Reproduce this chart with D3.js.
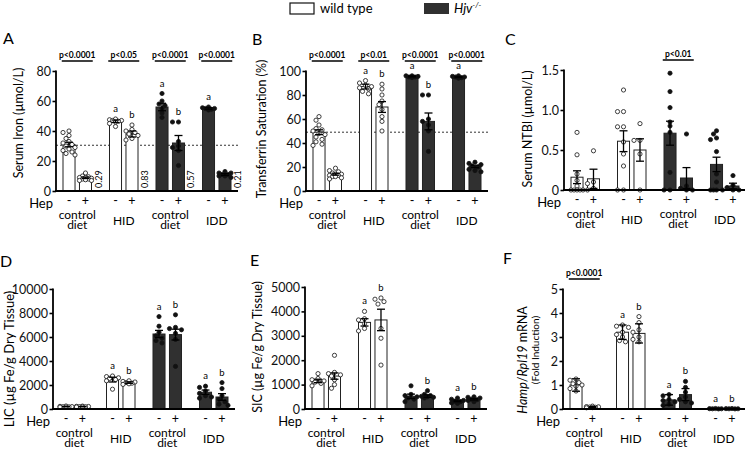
<!DOCTYPE html>
<html>
<head>
<meta charset="utf-8">
<script src="https://cdn.jsdelivr.net/npm/d3@7"></script>
<style>
body { margin: 0; background: #fff; }
svg { font-family: Lato, "Open Sans", sans-serif; }
</style>
</head>
<body>
<div id="chart"></div>
<script>
/* eslint-env browser */

// categories
const groupLabels = [["control", "diet"], ["HID"], ["control", "diet"], ["IDD"]];
const hepSigns = ["-", "+"];
const genotype = ["wt", "wt", "wt", "wt", "hjv", "hjv", "hjv", "hjv"];

// A serum iron
const ironMean = [31, 8.8, 46.5, 38, 56, 32, 55, 11];
const ironSem = [1.5, 0.5, 0.8, 2, 2.5, 5, 0.5, 0.6];
const ironPoints = [
    [40, 39, 37, 35, 33, 32, 31, 30, 29, 28, 27, 26, 25, 24],
    [12, 10, 9.5, 9, 9, 8.5, 8, 8, 7.5, 7, 7],
    [48, 47.5, 47, 47, 46.5, 46, 45, 43],
    [44, 41, 40, 39, 38, 37, 35, 34],
    [65, 60, 58, 57, 55, 52, 49],
    [46, 46, 33, 30, 29, 27, 17],
    [56, 55.5, 55, 55, 54.5, 54],
    [13, 12, 12, 11, 11, 10, 10, 9]
];
const ironLetters = ["", "", "a", "b", "a", "b", "a", ""];
const ironP = ["p<0.0001", "p<0.05", "p<0.0001", "p<0.0001"];
const ironRatio = ["0.29", "0.83", "0.57", "0.21"];
const ironRef = 30.5;
const ironTicks = [0, 20, 40, 60, 80];

// B transferrin saturation
const tsatMean = [49, 14, 87, 70, 95.5, 58, 95, 20.5];
const tsatSem = [2, 0.8, 2, 4.5, 0.4, 7, 0.4, 1];
const tsatPoints = [
    [62, 59, 55, 52, 51, 50, 48, 47, 45, 43, 41, 39, 38],
    [19, 17, 16, 15, 14, 14, 13, 13, 12, 12, 11, 10],
    [92, 90, 88, 87, 86, 85, 83, 81],
    [89, 85, 80, 75, 72, 68, 62, 58, 50],
    [96, 96, 95.5, 95, 95, 94.5],
    [80, 80, 60, 58, 55, 50, 33],
    [96, 95.5, 95, 95, 94.5, 94],
    [24, 23, 22, 21, 20, 18, 17, 16]
];
const tsatLetters = ["", "", "a", "b", "a", "b", "a", ""];
const tsatP = ["p<0.0001", "p<0.01", "p<0.0001", "p<0.0001"];
const tsatRef = 49;
const tsatTicks = [0, 20, 40, 60, 80, 100];

// C serum NTBI
const ntbiMean = [0.16, 0.14, 0.61, 0.5, 0.71, 0.15, 0.32, 0.05];
const ntbiSem = [0.08, 0.12, 0.13, 0.14, 0.15, 0.13, 0.09, 0.035];
const ntbiPoints = [
    [0.72, 0.44, 0.2, 0.12, 0.05, 0, 0, 0, 0, 0],
    [0.49, 0.1, 0.08, 0.02, 0],
    [1.25, 0.98, 0.98, 0.79, 0.79, 0.6, 0.45, 0.3, 0, 0],
    [0.83, 0.62, 0.62, 0.45, 0],
    [1.46, 1.23, 1.03, 0.85, 0.8, 0.72, 0.22, 0, 0],
    [0.7, 0.05, 0.02, 0, 0],
    [0.74, 0.7, 0.65, 0.63, 0.48, 0.2, 0.1, 0, 0, 0, 0],
    [0.18, 0.06, 0.03, 0, 0]
];
const ntbiP = ["", "", "p<0.01", ""];
const ntbiTicks = [0, 0.5, 1.0, 1.5];

// D liver iron
const licMean = [200, 200, 2450, 2200, 6250, 6200, 1400, 1000];
const licSem = [20, 20, 200, 60, 300, 450, 180, 280];
const licPoints = [
    [250, 220, 200, 190, 180, 170, 160],
    [240, 220, 210, 200, 190, 180, 170],
    [2750, 2700, 2600, 2550, 2450, 2350, 1650],
    [2350, 2300, 2250, 2200, 2150, 2100, 2050],
    [7700, 6900, 6400, 6100, 5900, 5700, 5500],
    [7850, 6800, 6700, 6600, 6300, 5800, 3550],
    [1900, 1800, 1500, 1300, 1100, 1000, 900],
    [2200, 1700, 1100, 800, 600, 400, 300]
];
const licLetters = ["", "", "a", "b", "a", "b", "a", "b"];
const licTicks = [0, 2000, 4000, 6000, 8000, 10000];

// E spleen iron
const sicMean = [1150, 1350, 3550, 3650, 520, 530, 330, 400];
const sicSem = [70, 130, 150, 440, 90, 50, 30, 30];
const sicPoints = [
    [1450, 1250, 1200, 1150, 1100, 1050, 950],
    [2200, 1500, 1450, 1400, 1350, 1200, 1000, 850],
    [4000, 3700, 3650, 3500, 3300, 3200],
    [4550, 4500, 4400, 4300, 3300, 2900, 1800],
    [950, 600, 550, 500, 450, 400, 300],
    [750, 600, 550, 520, 500, 480, 450],
    [450, 400, 350, 320, 300, 250, 230],
    [500, 480, 450, 400, 380, 350, 300]
];
const sicLetters = ["", "", "a", "b", "", "b", "a", "b"];
const sicTicks = [0, 1000, 2000, 3000, 4000, 5000];

// F hepcidin mRNA
const hampMean = [1.0, 0.08, 3.2, 3.15, 0.38, 0.6, 0.01, 0.01];
const hampErr = [0.26, 0.02, 0.3, 0.4, 0.22, 0.25, 0.005, 0.005];
const hampPoints = [
    [1.25, 1.2, 1.1, 1.05, 1.0, 0.95, 0.85, 0.75],
    [0.12, 0.1, 0.09, 0.08, 0.07, 0.06, 0.05],
    [3.5, 3.45, 3.4, 3.2, 3.1, 3.0, 2.85, 2.8],
    [3.85, 3.6, 3.3, 3.2, 3.0, 2.9, 2.8],
    [0.6, 0.55, 0.4, 0.35, 0.3, 0.2, 0.15],
    [1.15, 0.9, 0.7, 0.5, 0.4, 0.3, 0.25],
    [0.02, 0.015, 0.01, 0.01, 0.005],
    [0.02, 0.015, 0.01, 0.01, 0.005]
];
const hampLetters = ["", "", "a", "b", "a", "b", "a", "b"];
const hampP = ["p<0.0001", "", "", ""];
const hampTicks = [0, 1, 2, 3, 4, 5];

var Figure = (function () {
    "use strict";
    const width = 745, height = 450,
        axisLen = 182,
        dark = "#303030",
        r = 2.1;
    var svg;

    const panels = [
        {label: "A", lx: 3, ly: 44, x0: 56, top: 71, bottom: 191, max: 80, ticks: ironTicks,
            mean: ironMean, err: ironSem, pts: ironPoints, letters: ironLetters, pvals: ironP,
            ref: ironRef, ratio: ironRatio, title: "Serum Iron (µmol/L)", tx: 19, ty: 123, tsize: 12.5},
        {label: "B", lx: 252, ly: 45, x0: 306, top: 71, bottom: 191, max: 100, ticks: tsatTicks,
            mean: tsatMean, err: tsatSem, pts: tsatPoints, letters: tsatLetters, pvals: tsatP,
            ref: tsatRef, title: "Transferrin Saturation (%)", tx: 262, ty: 129, tsize: 12.5},
        {label: "C", lx: 505, ly: 45, x0: 564, top: 70, bottom: 190, max: 1.5, ticks: ntbiTicks,
            mean: ntbiMean, err: ntbiSem, pts: ntbiPoints, pvals: ntbiP,
            fmt: function (d) { return d === 0 ? "0" : d3.format(".1f")(d); },
            title: "Serum NTBI (µmol/L)", tx: 528, ty: 129, tsize: 12.5},
        {label: "D", lx: 0, ly: 267, x0: 53, top: 289, bottom: 409, max: 10000, ticks: licTicks,
            mean: licMean, err: licSem, pts: licPoints, letters: licLetters,
            title: "LIC (µg Fe/g Dry Tissue)", tx: 9, ty: 359, tsize: 13},
        {label: "E", lx: 250, ly: 266, x0: 305, top: 287, bottom: 409, max: 5000, ticks: sicTicks,
            mean: sicMean, err: sicSem, pts: sicPoints, letters: sicLetters,
            title: "SIC (µg Fe/g Dry Tissue)", tx: 258, ty: 347, tsize: 12.5},
        {label: "F", lx: 503, ly: 264, x0: 563, top: 289, bottom: 409, max: 5, ticks: hampTicks,
            mean: hampMean, err: hampErr, pts: hampPoints, letters: hampLetters, pvals: hampP,
            hamp: true, tx: 523, ty: 360}
    ];

    function init() {
        svg = d3.select("#chart").append("svg")
            .attr("width", width)
            .attr("height", height);
        drawLegend();
        panels.forEach(drawPanel);
    }

    function drawLegend() {
        var lg = svg.append("g");
        lg.append("rect").attr("x", 290).attr("y", 3).attr("width", 24).attr("height", 11)
            .attr("fill", "#fff").attr("stroke", "#111").attr("stroke-width", 1.2);
        lg.append("text").attr("x", 320).attr("y", 13).attr("font-size", 13).text("wild type");
        lg.append("rect").attr("x", 424).attr("y", 3).attr("width", 25).attr("height", 11)
            .attr("fill", dark);
        var t = lg.append("text").attr("x", 454).attr("y", 13).attr("font-size", 13)
            .attr("font-style", "italic");
        t.append("tspan").text("Hjv");
        t.append("tspan").attr("font-size", 8).attr("dy", -5).text("-/-");
    }

    // keeps dots of one bar from piling on each other
    function swarm(vals, y) {
        var placed = [];
        var cands = [0, -1, 1, -2, 2];
        vals.forEach(function (v) {
            var py = y(v), best = 0, bestDist = -1;
            for (var k = 0; k < cands.length; k++) {
                var cx = cands[k] * 3;
                var dmin = d3.min(placed, function (p) { return Math.hypot(p.x - cx, p.y - py); });
                if (dmin === undefined) dmin = 99;
                if (dmin >= r * 1.9) { best = cx; bestDist = 99; break; }
                if (dmin > bestDist) { bestDist = dmin; best = cx; }
            }
            placed.push({x: best, y: py});
        });
        return placed;
    }

    function drawPanel(p) {
        var g = svg.append("g");
        var y = d3.scaleLinear().domain([0, p.max]).range([p.bottom, p.top]);
        var xGroup = d3.scalePoint().domain([0, 1, 2, 3]).range([p.x0, p.x0 + axisLen]).padding(0.457);
        var xSub = d3.scaleBand().domain([0, 1]).range([-14.25, 14.25]).paddingInner(0.27);
        var bw = xSub.bandwidth();
        var bars = p.mean.map(function (m, i) {
            var gi = Math.floor(i / 2), s = i % 2;
            var x = xGroup(gi) + xSub(s);
            return {i: i, g: gi, s: s, x: x, cx: x + bw / 2, mean: m, err: p.err[i], pts: p.pts[i], wt: genotype[i] === "wt"};
        });

        // panel label
        svg.append("text").attr("x", p.lx).attr("y", p.ly).attr("font-size", 16).text(p.label);

        // reference line
        if (p.ref !== undefined) {
            g.append("line")
                .attr("x1", p.x0).attr("x2", p.x0 + axisLen)
                .attr("y1", y(p.ref)).attr("y2", y(p.ref))
                .attr("stroke", "#333").attr("stroke-width", 1)
                .attr("stroke-dasharray", "2,2");
        }

        // bars
        g.selectAll("rect.bar").data(bars).enter().append("rect")
            .attr("class", "bar")
            .attr("x", function (d) { return d.x; })
            .attr("width", bw)
            .attr("y", function (d) { return y(d.mean); })
            .attr("height", function (d) { return p.bottom - y(d.mean); })
            .attr("fill", function (d) { return d.wt ? "#fff" : dark; })
            .attr("stroke", "#222")
            .attr("stroke-width", 1);

        // dots
        bars.forEach(function (d) {
            var pos = swarm(d.pts, y);
            g.append("g").selectAll("circle").data(pos).enter().append("circle")
                .attr("cx", function (q) { return d.cx + q.x; })
                .attr("cy", function (q) { return q.y; })
                .attr("r", r)
                .attr("fill", d.wt ? "#fff" : "#111")
                .attr("stroke", "#111")
                .attr("stroke-width", 0.8);
        });

        // error bars
        var eb = g.selectAll("g.err").data(bars).enter().append("g").attr("class", "err")
            .attr("stroke", "#000").attr("stroke-width", 1.3);
        eb.append("line")
            .attr("x1", function (d) { return d.cx; }).attr("x2", function (d) { return d.cx; })
            .attr("y1", function (d) { return y(d.mean - d.err); })
            .attr("y2", function (d) { return y(d.mean + d.err); });
        eb.append("line")
            .attr("x1", function (d) { return d.cx - 4; }).attr("x2", function (d) { return d.cx + 4; })
            .attr("y1", function (d) { return y(d.mean + d.err); })
            .attr("y2", function (d) { return y(d.mean + d.err); });
        eb.append("line")
            .attr("x1", function (d) { return d.cx - 4; }).attr("x2", function (d) { return d.cx + 4; })
            .attr("y1", function (d) { return y(Math.max(0, d.mean - d.err)); })
            .attr("y2", function (d) { return y(Math.max(0, d.mean - d.err)); });

        // letters a / b
        if (p.letters) {
            g.selectAll("text.letter").data(bars.filter(function (d) { return p.letters[d.i]; }))
                .enter().append("text")
                .attr("class", "letter")
                .attr("x", function (d) { return d.cx; })
                .attr("y", function (d) {
                    return Math.min(y(d3.max(d.pts)), y(d.mean + d.err)) - 7;
                })
                .attr("text-anchor", "middle")
                .attr("font-size", 9.5)
                .text(function (d) { return p.letters[d.i]; });
        }

        // rotated ratios next to + bars
        if (p.ratio) {
            bars.filter(function (d) { return d.s === 1; }).forEach(function (d) {
                g.append("text")
                    .attr("transform", "translate(" + (d.x + bw + 10) + "," + (p.bottom - 3) + ") rotate(-90)")
                    .attr("font-size", 9)
                    .text(p.ratio[d.g]);
            });
        }

        // p-value brackets
        if (p.pvals) {
            p.pvals.forEach(function (txt, gi) {
                if (!txt) return;
                var cx = xGroup(gi);
                var ly = p.top - 10;
                g.append("line")
                    .attr("x1", cx - 15.5).attr("x2", cx + 15.5)
                    .attr("y1", ly).attr("y2", ly)
                    .attr("stroke", "#000").attr("stroke-width", 1.5);
                g.append("text")
                    .attr("x", cx).attr("y", ly - 3)
                    .attr("text-anchor", "middle")
                    .attr("font-size", 8.5)
                    .attr("font-weight", "bold")
                    .text(txt);
            });
        }

        // y axis
        var ax = g.append("g")
            .attr("transform", "translate(" + p.x0 + ",0)")
            .call(d3.axisLeft(y).tickValues(p.ticks).tickSize(3.5).tickPadding(1.5)
                .tickFormat(p.fmt || d3.format("d")));
        ax.select(".domain").attr("stroke-width", 1.8).attr("d", "M0," + (p.top - 0.5) + "V" + p.bottom);
        ax.selectAll(".tick line").attr("stroke-width", 1.6);
        ax.selectAll(".tick text").attr("font-size", 12.5).attr("font-family", "Lato, sans-serif").attr("fill", "#111");

        // x axis baseline
        g.append("line")
            .attr("x1", p.x0 - 1).attr("x2", p.x0 + axisLen)
            .attr("y1", p.bottom).attr("y2", p.bottom)
            .attr("stroke", "#000").attr("stroke-width", 1.8);

        // Hep row
        g.append("text").attr("x", p.x0 - 3).attr("y", p.bottom + 17)
            .attr("text-anchor", "end").attr("font-size", 13).text("Hep");
        g.selectAll("text.sign").data(bars).enter().append("text")
            .attr("class", "sign")
            .attr("x", function (d) { return d.cx; })
            .attr("y", p.bottom + 13.5)
            .attr("text-anchor", "middle")
            .attr("font-size", 12.5)
            .text(function (d) { return hepSigns[d.s]; });

        // group labels
        groupLabels.forEach(function (lines, gi) {
            var t = g.append("text").attr("text-anchor", "middle").attr("font-size", 12);
            if (lines.length === 1) {
                t.attr("x", xGroup(gi)).attr("y", p.bottom + 34).text(lines[0]);
            } else {
                lines.forEach(function (ln, k) {
                    t.append("tspan").attr("x", xGroup(gi)).attr("y", p.bottom + 28 + k * 10).text(ln);
                });
            }
        });

        // y title
        if (p.hamp) {
            var t1 = g.append("text")
                .attr("transform", "translate(" + p.tx + "," + p.ty + ") rotate(-90)")
                .attr("text-anchor", "middle").attr("dy", "0.35em").attr("font-size", 12.5);
            t1.append("tspan").attr("font-style", "italic").text("Hamp");
            t1.append("tspan").text("/");
            t1.append("tspan").attr("font-style", "italic").text("Rpl19");
            t1.append("tspan").text(" mRNA");
            g.append("text")
                .attr("transform", "translate(" + (p.tx + 12) + "," + (p.ty - 10) + ") rotate(-90)")
                .attr("text-anchor", "middle").attr("dy", "0.35em").attr("font-size", 10)
                .text("(Fold Induction)");
        } else {
            g.append("text")
                .attr("transform", "translate(" + p.tx + "," + p.ty + ") rotate(-90)")
                .attr("text-anchor", "middle").attr("dy", "0.35em")
                .attr("font-size", p.tsize)
                .text(p.title);
        }
    }

    return {init: init};
})();

Figure.init();
</script>
</body>
</html>
